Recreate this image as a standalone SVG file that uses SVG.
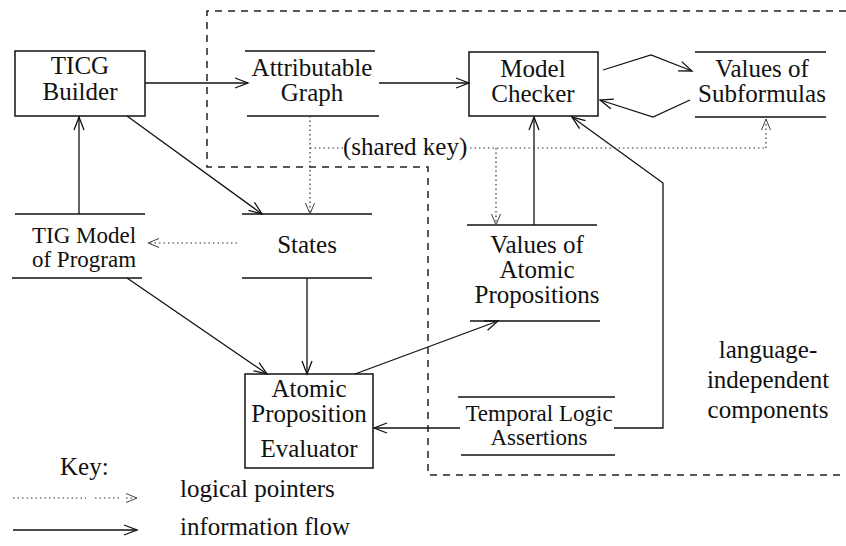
<svg xmlns="http://www.w3.org/2000/svg" width="846" height="546" viewBox="0 0 846 546" font-family="'Liberation Serif', 'DejaVu Serif', serif">
  <style>
    text { font-family: "Liberation Serif", "DejaVu Serif", serif; font-size: 25px; fill: #111; }
    .c { text-anchor: middle; }
    .tight { font-size: 23px; }
    .box { fill: none; stroke: #111; stroke-width: 1.5; }
    .store { stroke: #111; stroke-width: 1.5; }
    .flow { fill: none; stroke: #111; stroke-width: 1.3; marker-end: url(#arr); }
    .ptr { fill: none; stroke: #333; stroke-width: 1.2; stroke-dasharray: 1.5 3; marker-end: url(#arrDot); }
    .ptrline { fill: none; stroke: #333; stroke-width: 1.2; stroke-dasharray: 1.5 3; }
    .bound { fill: none; stroke: #222; stroke-width: 1.5; stroke-dasharray: 7 6; }
  </style>
  <defs>
    <marker id="arr" markerUnits="userSpaceOnUse" markerWidth="15" markerHeight="12" refX="13" refY="5" orient="auto" overflow="visible">
      <path d="M0,0 L13,5 L0,10" fill="none" stroke="#111" stroke-width="1.3"/>
    </marker>
    <marker id="arrDot" markerUnits="userSpaceOnUse" markerWidth="15" markerHeight="12" refX="11" refY="4.5" orient="auto" overflow="visible">
      <path d="M0,0 L11,4.5 L0,9" fill="none" stroke="#444" stroke-width="1"/>
    </marker>
  </defs>

  <!-- language-independent part boundary -->
  <path class="bound" d="M846,11 H207 V167 H428 V475 H846"/>

  <!-- processes (boxes) and data stores (pairs of lines) -->
  <g id="ticg-builder">
    <rect class="box" x="15" y="51" width="130" height="65"/>
    <text class="c" x="80" y="74">TICG</text>
    <text class="c" x="80" y="100">Builder</text>
  </g>
  <g id="attributable-graph">
    <line class="store" x1="245" y1="51" x2="375" y2="51"/>
    <line class="store" x1="247" y1="116" x2="379" y2="116"/>
    <text class="c" x="312" y="76">Attributable</text>
    <text class="c" x="312" y="101">Graph</text>
  </g>
  <g id="model-checker">
    <rect class="box" x="469" y="52" width="129" height="64"/>
    <text class="c" x="533" y="77">Model</text>
    <text class="c" x="533" y="102">Checker</text>
  </g>
  <g id="values-subformulas">
    <line class="store" x1="695" y1="52" x2="826" y2="52"/>
    <line class="store" x1="695" y1="117" x2="826" y2="117"/>
    <text class="c" x="762" y="77">Values of</text>
    <text class="c" x="762" y="102">Subformulas</text>
  </g>
  <g id="tig-model">
    <line class="store" x1="15" y1="214" x2="145" y2="214"/>
    <line class="store" x1="12" y1="278" x2="142" y2="278"/>
    <text class="c tight" x="84" y="243">TIG Model</text>
    <text class="c tight" x="84" y="267">of Program</text>
  </g>
  <g id="states">
    <line class="store" x1="242" y1="214" x2="372" y2="214"/>
    <line class="store" x1="242" y1="278" x2="372" y2="278"/>
    <text class="c" x="307" y="253">States</text>
  </g>
  <g id="values-atomic">
    <line class="store" x1="467" y1="225" x2="597" y2="225"/>
    <line class="store" x1="470" y1="321" x2="600" y2="321"/>
    <text class="c" x="537" y="253">Values of</text>
    <text class="c" x="537" y="278">Atomic</text>
    <text class="c" x="537" y="303">Propositions</text>
  </g>
  <g id="ap-evaluator">
    <rect class="box" x="245" y="374" width="128" height="94"/>
    <text class="c" x="309" y="397">Atomic</text>
    <text class="c" x="309" y="422">Proposition</text>
    <text class="c" x="309" y="457">Evaluator</text>
  </g>
  <g id="tl-assertions">
    <line class="store" x1="458" y1="397" x2="615" y2="397"/>
    <line class="store" x1="461" y1="455" x2="615" y2="455"/>
    <text class="c tight" x="539" y="421">Temporal Logic</text>
    <text class="c tight" x="539" y="445">Assertions</text>
  </g>
  <g id="region-label">
    <text class="c" x="768" y="358">language-</text>
    <text class="c" x="768" y="388">independent</text>
    <text class="c" x="768" y="418">components</text>
  </g>

  <!-- connectors -->
  <g id="connectors">
    <line class="flow" x1="145" y1="83" x2="248" y2="83"/>
    <line class="flow" x1="379" y1="83" x2="469" y2="83"/>
    <polyline class="flow" points="603,70 651,55 692,71"/>
    <polyline class="flow" points="690,100 653,117 600,100"/>
    <line class="flow" x1="79" y1="214" x2="79" y2="117"/>
    <line class="flow" x1="127" y1="116" x2="262" y2="214"/>
    <line class="flow" x1="127" y1="278" x2="267" y2="374"/>
    <line class="flow" x1="307" y1="278" x2="307" y2="374"/>
    <line class="flow" x1="355" y1="374" x2="498" y2="321"/>
    <line class="flow" x1="534" y1="225" x2="534" y2="117"/>
    <line class="flow" x1="460" y1="428" x2="374" y2="428"/>
    <polyline class="flow" points="614,428 663,428 663,183 572,117"/>

    <!-- logical pointers -->
    <line class="ptr" x1="310" y1="116" x2="310" y2="214"/>
    <line class="ptr" x1="237" y1="243" x2="148" y2="243"/>
    <line class="ptrline" x1="310" y1="148" x2="343" y2="148"/>
    <text x="343" y="155">(shared key)</text>
    <line class="ptrline" x1="470" y1="148" x2="766" y2="148"/>
    <line class="ptr" x1="766" y1="148" x2="766" y2="119"/>
    <line class="ptr" x1="496" y1="148" x2="496" y2="225"/>
  </g>

  <!-- key -->
  <g id="key">
    <text x="60" y="475">Key:</text>
    <line class="ptrline" x1="13" y1="498" x2="86" y2="498"/>
    <line class="ptrline" x1="95" y1="498" x2="120" y2="498"/>
    <line class="ptr" x1="126" y1="498" x2="137" y2="498"/>
    <text x="180" y="497">logical pointers</text>
    <line class="flow" x1="13" y1="530" x2="137" y2="530"/>
    <text x="180" y="535">information flow</text>
  </g>
</svg>
